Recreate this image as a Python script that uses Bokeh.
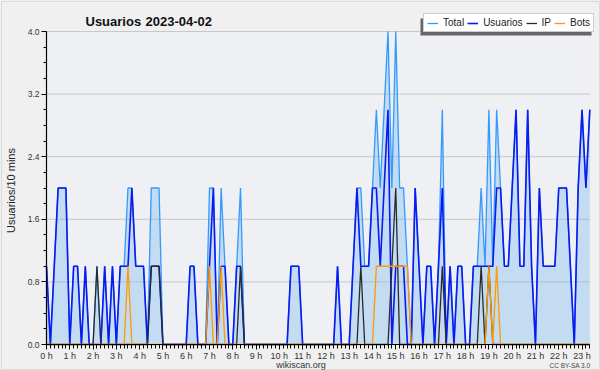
import math
from bokeh.plotting import figure
from bokeh.models import (Range1d, FixedTicker, PrintfTickFormatter, CustomJSTickFormatter,
                          Label, Legend, LegendItem, ColumnDataSource, BoxAnnotation)
from bokeh.embed import file_html
from bokeh.resources import INLINE

# ---- data: one value per 10-minute slot, 00:00 .. 23:20 ----
slots_per_hour = 6
usuarios = [1, 0, 1, 2, 2, 2, 0, 1, 1, 0,
            1, 0, 0, 0, 0, 1, 0, 1, 0, 1,
            1, 1, 2, 1, 1, 1, 0, 1, 1, 1,
            0, 0, 0, 0, 0, 0, 0, 1, 1, 0,
            0, 0, 1, 2, 0, 1, 1, 0, 0, 1,
            1, 0, 0, 0, 0, 0, 0, 0, 0, 0,
            0, 0, 0, 1, 1, 1, 0, 0, 0, 0,
            0, 0, 0, 0, 0, 1, 0, 0, 0, 1,
            2, 1, 1, 1, 2, 2, 1, 2, 3, 0,
            1, 1, 1, 0, 0, 2, 1, 0, 1, 1,
            0, 1, 2, 0, 1, 0, 1, 1, 0, 0,
            1, 1, 1, 1, 1, 1, 2, 2, 1, 1,
            2, 3, 1, 1, 3, 1, 0, 2, 1, 1,
            1, 1, 2, 2, 2, 1, 0, 2, 3, 2,
            3]
ip = [0, 0, 0, 0, 0, 0, 0, 0, 0, 0,
      0, 0, 0, 1, 0, 0, 0, 0, 0, 0,
      0, 0, 0, 0, 0, 0, 0, 1, 1, 1,
      0, 0, 0, 0, 0, 0, 0, 0, 0, 0,
      0, 0, 0, 0, 0, 0, 0, 0, 0, 0,
      1, 0, 0, 0, 0, 0, 0, 0, 0, 0,
      0, 0, 0, 0, 0, 0, 0, 0, 0, 0,
      0, 0, 0, 0, 0, 0, 0, 0, 0, 0,
      0, 1, 0, 0, 0, 0, 0, 0, 0, 1,
      2, 0, 0, 0, 0, 0, 0, 0, 0, 0,
      0, 0, 1, 0, 0, 0, 0, 0, 0, 0,
      0, 0, 1, 0, 1, 0, 0, 0, 0, 0,
      0, 0, 0, 0, 0, 0, 0, 0, 0, 0,
      0, 0, 0, 0, 0, 0, 0, 0, 0, 0,
      0]
bots = [0, 0, 0, 0, 0, 0, 0, 0, 0, 0,
        0, 0, 0, 0, 0, 0, 0, 0, 0, 0,
        0, 1, 0, 0, 0, 0, 0, 0, 0, 0,
        0, 0, 0, 0, 0, 0, 0, 0, 0, 0,
        0, 0, 1, 0, 0, 1, 0, 0, 0, 0,
        0, 0, 0, 0, 0, 0, 0, 0, 0, 0,
        0, 0, 0, 0, 0, 0, 0, 0, 0, 0,
        0, 0, 0, 0, 0, 0, 0, 0, 0, 0,
        0, 0, 0, 0, 0, 1, 1, 1, 1, 1,
        1, 1, 1, 1, 0, 0, 0, 0, 0, 0,
        0, 0, 0, 0, 0, 0, 0, 0, 0, 0,
        0, 0, 0, 0, 1, 0, 1, 0, 0, 0,
        0, 0, 0, 0, 0, 0, 0, 0, 0, 0,
        0, 0, 0, 0, 0, 0, 0, 0, 0, 0,
        0]
total = [1, 0, 1, 2, 2, 2, 0, 1, 1, 0,
         1, 0, 0, 1, 0, 1, 0, 1, 0, 1,
         1, 2, 2, 1, 1, 1, 0, 2, 2, 2,
         0, 0, 0, 0, 0, 0, 0, 1, 1, 0,
         0, 0, 2, 2, 0, 2, 1, 0, 0, 1,
         2, 0, 0, 0, 0, 0, 0, 0, 0, 0,
         0, 0, 0, 1, 1, 1, 0, 0, 0, 0,
         0, 0, 0, 0, 0, 1, 0, 0, 0, 1,
         2, 2, 1, 1, 2, 3, 2, 3, 4, 2,
         4, 2, 2, 1, 0, 2, 1, 0, 1, 1,
         0, 1, 3, 0, 1, 0, 1, 1, 0, 0,
         1, 1, 2, 1, 3, 1, 3, 2, 1, 1,
         2, 3, 1, 1, 3, 1, 0, 2, 1, 1,
         1, 1, 2, 2, 2, 1, 0, 2, 3, 2,
         3]
hour_ticks = list(range(24))
y_ticks = [0.0, 0.8, 1.6, 2.4, 3.2, 4.0]
y_max = 4.0
series_names = ["Total", "Usuarios", "IP", "Bots"]
title_text = "Usuarios"
date_text = "2023-04-02"
y_label = "Usuarios/10 mins"
site_text = "wikiscan.org"
license_text = "CC BY-SA 3.0"

n = len(total)
x = [i / slots_per_hour for i in range(n)]
x_last = (n - 1) / slots_per_hour
src = ColumnDataSource(dict(x=x, total=total, usuarios=usuarios, ip=ip, bots=bots,
                            zero=[0] * n))

FONT = "Liberation Sans"
W, H = 600, 370
# pixel layout of the plot area inside the canvas
PX_LEFT, PX_RIGHT, PX_TOP, PX_BOTTOM = 46.0, 589.3, 31.0, 344.0
sx = (PX_RIGHT - PX_LEFT) / x_last
sy = (PX_BOTTOM - PX_TOP) / y_max
x_range = Range1d(-PX_LEFT / sx, (W - PX_LEFT) / sx)
y_range = Range1d(-(H - PX_BOTTOM) / sy, y_max + PX_TOP / sy)

p = figure(width=W, height=H, output_backend="svg", toolbar_location=None, title=None,
           x_range=x_range, y_range=y_range,
           min_border_left=0, min_border_right=0, min_border_top=0, min_border_bottom=0)
p.background_fill_color = "#f0f0f0"
p.border_fill_color = "#f0f0f0"
p.outline_line_color = None

# plot-area background
p.add_layout(BoxAnnotation(left=0, right=x_last, bottom=0, top=y_max,
                           fill_color="#eef0f3", fill_alpha=1, line_color=None,
                           level="underlay"))
# horizontal grid lines
grid_vals = [v for v in y_ticks if v > 0]
p.segment(x0=[0] * len(grid_vals), x1=[x_last] * len(grid_vals), y0=grid_vals, y1=grid_vals,
          line_color="#c8c8c8", line_width=1)

p.varea(x="x", y1="zero", y2="total", source=src, fill_color="#69b1ef", fill_alpha=0.32)
r_t = p.line("x", "total", source=src, line_color="#3399ff", line_width=1.3)
r_u = p.line("x", "usuarios", source=src, line_color="#0a1af0", line_width=1.6)
r_i = p.line("x", "ip", source=src, line_color="#2a2a2a", line_width=1.3)
r_b = p.line("x", "bots", source=src, line_color="#ff9900", line_width=1.3)

# axes, fixed at the data origin
xt = FixedTicker(ticks=hour_ticks, minor_ticks=x)
p.xaxis.ticker = xt
p.xaxis.formatter = CustomJSTickFormatter(code="return Math.round(tick) + ' h';")
p.xaxis.fixed_location = 0
p.xaxis.bounds = (0, x_last)
yt = FixedTicker(ticks=y_ticks, minor_ticks=[round(0.2 * k, 1) for k in range(21)])
p.yaxis.ticker = yt
p.yaxis.formatter = PrintfTickFormatter(format="%.1f")
p.yaxis.fixed_location = 0
p.yaxis.bounds = (0, y_max)
for ax in (p.xaxis, p.yaxis):
    ax.axis_line_color = "black"
    ax.axis_line_width = 1.2
    ax.major_tick_line_color = "black"
    ax.minor_tick_line_color = "black"
    ax.major_tick_in = 0
    ax.minor_tick_in = 0
    ax.major_label_text_font = FONT
    ax.major_label_text_color = "#333333"
p.xaxis.major_tick_out = 5
p.xaxis.minor_tick_out = 4
p.xaxis.major_label_standoff = 1
p.xaxis.major_label_text_font_size = "9px"
p.yaxis.major_tick_out = 5
p.yaxis.minor_tick_out = 3
p.yaxis.major_label_standoff = 2
p.yaxis.major_label_text_font_size = "8.5px"
p.xgrid.visible = False
p.ygrid.visible = False


def yscr(page_y):
    return H - page_y


# texts (screen units; the frame is the whole canvas)
p.add_layout(Label(x=85, y=yscr(21), x_units="screen", y_units="screen", text=title_text,
                   text_font=FONT, text_font_style="bold", text_font_size="13px",
                   text_color="#111111", text_baseline="alphabetic"))
p.add_layout(Label(x=145, y=yscr(21), x_units="screen", y_units="screen", text=date_text,
                   text_font=FONT, text_font_style="bold", text_font_size="13px",
                   text_color="#111111", text_baseline="alphabetic"))
p.add_layout(Label(x=10, y=yscr(190), x_units="screen", y_units="screen", text=y_label,
                   angle=math.pi / 2, text_align="center", text_baseline="middle",
                   text_font=FONT, text_font_size="11px", text_color="#222222"))
p.add_layout(Label(x=300.5, y=yscr(364), x_units="screen", y_units="screen", text=site_text,
                   text_align="center", text_baseline="alphabetic",
                   text_font=FONT, text_font_size="9px", text_color="#333333"))
p.add_layout(Label(x=590, y=yscr(365), x_units="screen", y_units="screen", text=license_text,
                   text_align="right", text_baseline="alphabetic",
                   text_font=FONT, text_font_size="6.5px", text_color="#444444"))

# legend with drop shadow
p.add_layout(BoxAnnotation(left=420, right=591, bottom=yscr(35), top=yscr(18),
                           left_units="screen", right_units="screen",
                           bottom_units="screen", top_units="screen",
                           fill_color="#666666", fill_alpha=1, line_color=None))
items = [LegendItem(label=nm, renderers=[r])
         for nm, r in zip(series_names, [r_t, r_u, r_i, r_b])]
legend = Legend(items=items, location=(423, yscr(32)), orientation="horizontal",
                label_text_font=FONT, label_text_font_size="10px",
                label_text_color="#222222", glyph_width=11, glyph_height=10,
                label_height=10, label_width=5, label_standoff=5, spacing=3,
                padding=3, margin=0, background_fill_color="white",
                background_fill_alpha=1, border_line_color="#999999",
                border_line_width=1)
p.add_layout(legend)

# outer frame of the picture
p.add_layout(BoxAnnotation(left=0.75, right=W - 0.75, bottom=0.75, top=H - 0.75,
                           left_units="screen", right_units="screen",
                           bottom_units="screen", top_units="screen",
                           fill_alpha=0, line_color="#a8a8a8", line_width=1.5))

open("out.html", "w").write(file_html(p, INLINE))
